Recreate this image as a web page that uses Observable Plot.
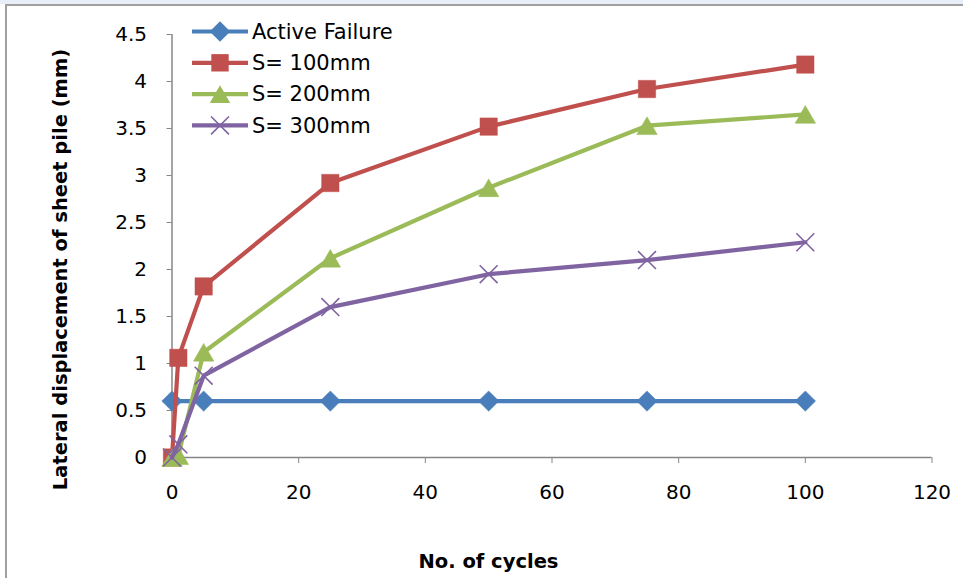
<!DOCTYPE html>
<html>
<head>
<meta charset="utf-8">
<script src="https://cdn.jsdelivr.net/npm/d3@7"></script>
<script src="https://cdn.jsdelivr.net/npm/@observablehq/plot@0.6"></script>
<style>
  body { margin: 0; background: #fff; }
  #chart { position: relative; width: 963px; height: 578px; overflow: hidden; background: #fff; font-family: "DejaVu Sans", sans-serif; }
  #strip { position: absolute; left: 0; top: 0; width: 963px; height: 4px; background: #e8eff8; }
  #frame { position: absolute; left: 5px; top: 4px; width: 1000px; height: 600px; border-left: 2px solid #a0a0a0; border-top: 2px solid #a0a0a0; box-sizing: border-box; }
  #chart svg { position: absolute; left: 0; top: 0; }
</style>
</head>
<body>
<div id="chart"><div id="strip"></div><div id="frame"></div></div>
<script>
// Lateral displacement of the sheet pile against number of load cycles
const cycles = [0, 1, 5, 25, 50, 75, 100];
const s100 = [0, 1.06, 1.82, 2.92, 3.52, 3.92, 4.18];
const s200 = [0, 0.02, 1.12, 2.12, 2.87, 3.53, 3.65];
const s300 = [0, 0.14, 0.87, 1.60, 1.95, 2.10, 2.29];
const activeCycles = [0, 5, 25, 50, 75, 100];
const activeFailure = [0.6, 0.6, 0.6, 0.6, 0.6, 0.6];

const xTicks = [0, 20, 40, 60, 80, 100, 120];
const yTicks = [0, 0.5, 1, 1.5, 2, 2.5, 3, 3.5, 4, 4.5];

const xTitle = "No. of cycles";
const yTitle = "Lateral displacement of sheet pile (mm)";

const series = [
  {name: "Active Failure", xs: activeCycles, ys: activeFailure, color: "#4a7ebb", symbol: "diamond2", r: 9.2, dy: 0},
  {name: "S= 100mm", xs: cycles, ys: s100, color: "#c0504d", symbol: "square", r: 9.8, dy: 0},
  {name: "S= 200mm", xs: cycles, ys: s200, color: "#9bbb59", symbol: "triangle", r: 7.6, dy: 3},
  {name: "S= 300mm", xs: cycles, ys: s300, color: "#8064a2", symbol: "times", r: 8.2, dy: 0}
];

const seriesRows = series.map(s => s.xs.map((x, i) => ({series: s.name, x, y: s.ys[i]})));

const axisGrey = "#868686";
const marks = [
  Plot.ruleX([0], {stroke: axisGrey, strokeWidth: 1.5}),
  Plot.ruleY([0], {stroke: axisGrey, strokeWidth: 1.5}),
  Plot.axisX({ticks: xTicks, label: null, tickSize: 6, tickPadding: 21, stroke: axisGrey, fill: "#000", fontSize: 20, tickFormat: d => String(d)}),
  Plot.axisY({ticks: yTicks, label: null, tickSize: 5, tickPadding: 20, stroke: axisGrey, fill: "#000", fontSize: 20, tickFormat: d => String(d)}),
  Plot.text([xTitle], {frameAnchor: "bottom", textAnchor: "middle", lineAnchor: "middle", dx: -63.5, dy: 104, fontSize: 19.5, fontWeight: "bold", fill: "#000"}),
  Plot.text([yTitle], {frameAnchor: "left", textAnchor: "middle", lineAnchor: "middle", rotate: -90, dx: -111.5, dy: 23.5, fontSize: 19.5, fontWeight: "bold", fill: "#000"})
];

series.forEach((s, k) => {
  const rows = seriesRows[k];
  marks.push(Plot.line(rows, {x: "x", y: "y", stroke: s.color, strokeWidth: 4.2}));
  if (s.symbol === "times") {
    marks.push(Plot.dot(rows, {x: "x", y: "y", symbol: s.symbol, r: s.r, stroke: s.color, strokeWidth: 1.6}));
  } else {
    marks.push(Plot.dot(rows, {x: "x", y: "y", symbol: s.symbol, r: s.r, fill: s.color, stroke: s.color, strokeWidth: 0.5, dy: s.dy}));
  }
});

const chart = Plot.plot({
  width: 963,
  height: 578,
  marginLeft: 171.5,
  marginRight: 31.5,
  marginTop: 34,
  marginBottom: 121,
  style: {fontFamily: "DejaVu Sans, sans-serif", background: "transparent", color: "#000"},
  x: {domain: [0, 120], axis: null},
  y: {domain: [0, 4.5], axis: null},
  marks
});
document.getElementById("chart").appendChild(chart);

// Legend in the upper-left corner of the plot area
const legend = d3.select("#chart").append("svg")
  .attr("width", 963).attr("height", 578)
  .style("pointer-events", "none");
const symbolTypes = {diamond2: d3.symbolDiamond2, square: d3.symbolSquare, triangle: d3.symbolTriangle, times: d3.symbolTimes};
series.forEach((s, i) => {
  const cy = 31.5 + i * 31.3;
  const g = legend.append("g");
  g.append("line").attr("x1", 192).attr("x2", 248).attr("y1", cy).attr("y2", cy)
    .attr("stroke", s.color).attr("stroke-width", 4.2);
  const path = d3.symbol().type(symbolTypes[s.symbol]).size(Math.PI * s.r * s.r)();
  const m = g.append("path").attr("d", path).attr("transform", `translate(220,${cy + s.dy})`);
  if (s.symbol === "times") m.attr("fill", "none").attr("stroke", s.color).attr("stroke-width", 1.6);
  else m.attr("fill", s.color);
  g.append("text").attr("x", 252).attr("y", cy).attr("dy", "0.35em")
    .attr("font-family", "DejaVu Sans, sans-serif").attr("font-size", 21).attr("fill", "#000")
    .text(s.name);
});
</script>
</body>
</html>
